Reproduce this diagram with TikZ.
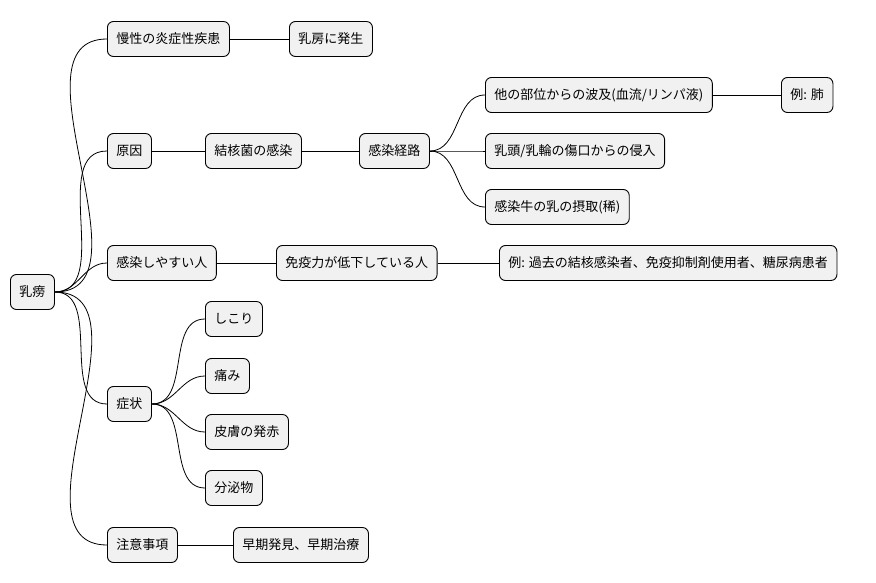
\documentclass[tikz,border=0pt]{standalone}
\usepackage{fontspec}
\setmainfont{Noto Sans CJK JP}
\begin{document}
\begin{tikzpicture}[x=1pt,y=-1pt,
  n/.style={draw=black,line width=0.9pt,fill={rgb,255:red,241;green,241;blue,241},rounded corners=6pt,minimum height=35pt,inner xsep=9pt,anchor=west,font=\fontsize{13}{15}\selectfont},
  e/.style={line width=0.8pt}]
\useasboundingbox (0,0) rectangle (876,583);
\node[n] (r) at (10,292) {乳痨};
\node[n] (a) at (107,39) {慢性の炎症性疾患};
\node[n] (a1) at (289,39) {乳房に発生};
\node[n] (b) at (107,151) {原因};
\node[n] (b1) at (205,151) {結核菌の感染};
\node[n] (b2) at (359,151) {感染経路};
\node[n] (b3) at (485,95) {他の部位からの波及(血流/リンパ液)};
\node[n] (b4) at (781,95) {例: 肺};
\node[n] (b5) at (485,151) {乳頭/乳輪の傷口からの侵入};
\node[n] (b6) at (485,207) {感染牛の乳の摂取(稀)};
\node[n] (c) at (107,263) {感染しやすい人};
\node[n] (c1) at (276,263) {免疫力が低下している人};
\node[n] (c2) at (499,263) {例: 過去の結核感染者、免疫抑制剤使用者、糖尿病患者};
\node[n] (d) at (107,404) {症状};
\node[n] (d1) at (205,319) {しこり};
\node[n] (d2) at (205,376) {痛み};
\node[n] (d3) at (205,432) {皮膚の発赤};
\node[n] (d4) at (205,488) {分泌物};
\node[n] (f) at (107,545) {注意事項};
\node[n] (f1) at (233,545) {早期発見、早期治療};
\foreach \p/\c in {r/a,r/b,r/c,r/d,r/f,b2/b3,b2/b5,b2/b6,d/d1,d/d2,d/d3,d/d4}
  \draw[e] (\p.east) to[out=0,in=180] (\c.west);
\foreach \p/\c in {a/a1,b/b1,b1/b2,b3/b4,c/c1,c1/c2,f/f1}
  \draw[e] (\p.east) -- (\c.west);
\end{tikzpicture}
\end{document}
